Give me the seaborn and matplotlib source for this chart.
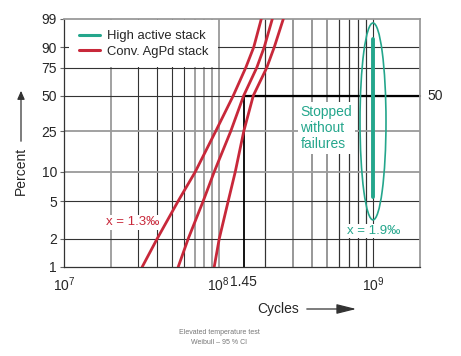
import numpy as np
import pandas as pd
import matplotlib
matplotlib.use("Agg")
import matplotlib.pyplot as plt
import seaborn as sns
from matplotlib.lines import Line2D
from matplotlib.patches import Ellipse, FancyArrowPatch

# ---- data ----
percent_levels = [1, 2, 5, 10, 25, 50, 75, 90, 99]
lower_bound_cycles = [3.20e7, 4.00e7, 5.47e7, 7.05e7, 9.56e7, 1.242e8, 1.496e8, 1.685e8, 1.884e8]
fit_cycles = [5.47e7, 6.35e7, 7.94e7, 9.35e7, 1.196e8, 1.45e8, 1.762e8, 1.970e8, 2.220e8]
upper_bound_cycles = [9.35e7, 1.008e8, 1.152e8, 1.279e8, 1.452e8, 1.673e8, 2.045e8, 2.287e8, 2.615e8]

high_active_cycles = [1e9, 1e9]
high_active_percent = [5.5, 94]

b10_cycles = 1.45e8
y_ticks = [1, 2, 5, 10, 25, 50, 75, 90, 99]
y_ticklabels = ["1", "2", "5", "10", "25", "50", "75", "90", "99"]
x_ticks = [1e7, 1e8, 1.45e8, 1e9]
x_ticklabels = [r"$10^{7}$", r"$10^{8}$", "1.45", r"$10^{9}$"]
legend_labels = ["High active stack", "Conv. AgPd stack"]

RED = "#c8283a"
TEAL = "#24a68c"
GREY = "#9a9a9a"
DARK = "#333333"

sns.set_style("white")
plt.rcParams["font.family"] = ["Liberation Sans", "DejaVu Sans"]
plt.rcParams["mathtext.fontset"] = "custom"
plt.rcParams["mathtext.rm"] = "Liberation Sans"
plt.rcParams["mathtext.it"] = "Liberation Sans"

fig = plt.figure(figsize=(4.61, 3.56), dpi=100)
ax = fig.add_axes([64 / 461, 1 - 267 / 356, 356 / 461, 248 / 356])


def fwd(p):
    p = np.asarray(p, dtype=float)
    with np.errstate(all="ignore"):
        q = np.clip(p / 100.0, 1e-9, 1 - 1e-12)
        return np.log(-np.log(1 - q))


def inv(y):
    y = np.asarray(y, dtype=float)
    with np.errstate(all="ignore"):
        return 100.0 * (1 - np.exp(-np.exp(y)))


ax.set_xscale("log")
ax.set_yscale("function", functions=(fwd, inv))
ax.set_xlim(1e7, 2e9)
ax.set_ylim(1, 99)

# grid lines (mixed grey / dark as in the reference)
grey_v = [2e7, 7e7, 8e7, 9e7, 1e8, 3e8, 4e8, 5e8]
vlines = [m * d for d in (1e7, 1e8) for m in range(2, 10)] + [1e8] + [m * 1e8 for m in range(2, 10)] + [1e9]
for v in vlines:
    if any(abs(v - g) / g < 1e-6 for g in grey_v):
        ax.axvline(v, color=GREY, lw=1.3, zorder=1)
    else:
        ax.axvline(v, color=DARK, lw=0.8, zorder=1)

for p in [2, 5, 10, 25, 50, 75, 90]:
    if p in (10, 25):
        ax.axhline(p, color=GREY, lw=1.3, zorder=1)
    else:
        ax.axhline(p, color=DARK, lw=0.8, zorder=1)

# B-life marker lines
ax.plot([b10_cycles, b10_cycles], [1, 50], color="black", lw=1.3, zorder=2)
ax.plot([b10_cycles, 2e9], [50, 50], color="black", lw=1.6, zorder=2, clip_on=False)

# red Weibull lines
df = pd.DataFrame({
    "cycles": lower_bound_cycles + fit_cycles + upper_bound_cycles,
    "percent": percent_levels * 3,
    "curve": ["lower"] * 9 + ["fit"] * 9 + ["upper"] * 9,
})
sns.lineplot(data=df, x="cycles", y="percent", units="curve", estimator=None,
             sort=False, color=RED, lw=2.0, ax=ax, legend=False, zorder=4)

# teal high active stack
df_t = pd.DataFrame({"cycles": high_active_cycles, "percent": high_active_percent, "u": [0, 0]})
sns.lineplot(data=df_t, x="cycles", y="percent", units="u", estimator=None, sort=False,
             color=TEAL, lw=2.8, ax=ax, legend=False, zorder=4)
ax.add_patch(Ellipse((0.868, 0.587), 0.073, 0.794, transform=ax.transAxes,
                     fill=False, edgecolor=TEAL, lw=1.2, zorder=4))

# texts
ax.text(0.664, 0.655, "Stopped\nwithout\nfailures", transform=ax.transAxes,
        color=TEAL, fontsize=10, va="top", ha="left", linespacing=1.2,
        bbox=dict(facecolor="white", edgecolor="none", pad=2), zorder=3)
ax.text(1e9, 0.145, "x = 1.9‰", transform=ax.get_xaxis_transform(),
        color=TEAL, fontsize=9.5, ha="center", va="center",
        bbox=dict(facecolor="white", edgecolor="none", pad=1), zorder=3)
ax.text(0.194, 0.181, "x = 1.3‰", transform=ax.transAxes,
        color=RED, fontsize=9.5, ha="center", va="center",
        bbox=dict(facecolor="white", edgecolor="none", pad=1), zorder=3)
ax.text(1.02, 50, "50", transform=ax.get_yaxis_transform(), fontsize=10,
        ha="left", va="center")

# ticks
ax.set_yticks(y_ticks)
ax.set_yticklabels(y_ticklabels)
ax.set_xticks(x_ticks)
ax.set_xticklabels(x_ticklabels)
ax.xaxis.set_minor_locator(matplotlib.ticker.NullLocator())
ax.yaxis.set_minor_locator(matplotlib.ticker.NullLocator())
ax.tick_params(axis="y", length=3, width=0.8, color="#666666", pad=2, labelsize=10, left=True)
ax.tick_params(axis="x", length=0, pad=6, labelsize=10)
ax.set_xlabel("")
ax.set_ylabel("")

for s in ["left", "bottom"]:
    ax.spines[s].set_color(DARK)
    ax.spines[s].set_linewidth(0.9)
for s in ["top", "right"]:
    ax.spines[s].set_color(GREY)
    ax.spines[s].set_linewidth(1.3)

# legend
handles = [Line2D([0], [0], color=TEAL, lw=2.2), Line2D([0], [0], color=RED, lw=2.2)]
leg = ax.legend(handles, legend_labels, loc="upper left", bbox_to_anchor=(0.015, 0.995),
                borderaxespad=0, frameon=True, fancybox=False, framealpha=1,
                facecolor="white", edgecolor="none", fontsize=9.4,
                handlelength=1.6, handletextpad=0.5, labelspacing=0.25,
                borderpad=0.75)
leg.set_zorder(5)

# axis labels with arrows
fig.text(21 / 461, 1 - 171 / 356, "Percent", rotation=90, ha="center", va="center", fontsize=10)
fig.add_artist(FancyArrowPatch(
    (21 / 461, 1 - 144 / 356), (21 / 461, 1 - 88 / 356), transform=fig.transFigure,
    arrowstyle="-|>,head_length=5,head_width=2.2", color=DARK, lw=0.9, mutation_scale=1))
fig.text(278 / 461, 1 - 309 / 356, "Cycles", ha="center", va="center", fontsize=10)
fig.add_artist(FancyArrowPatch(
    (304 / 461, 1 - 309 / 356), (359 / 461, 1 - 309 / 356), transform=fig.transFigure,
    arrowstyle="-|>,head_length=12,head_width=3", color=DARK, lw=0.9, mutation_scale=1))

fig.text(219 / 461, 1 - 332 / 356, "Elevated temperature test", ha="center", va="center",
         fontsize=5, color="#777777")
fig.text(219 / 461, 1 - 343 / 356, "Weibull – 95 % CI", ha="center", va="center",
         fontsize=5, color="#777777")

fig.savefig("out.png", dpi=100)
